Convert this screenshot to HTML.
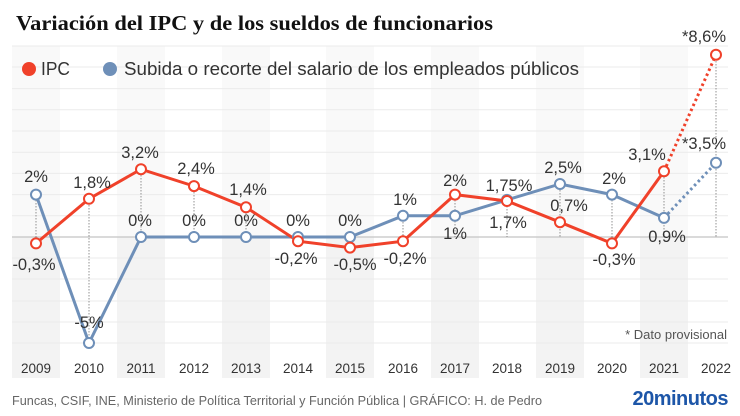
<!DOCTYPE html>
<html><head><meta charset="utf-8"><style>
body{margin:0;background:#fff;}
svg{display:block;font-family:"Liberation Sans",sans-serif;}
</style></head><body>
<svg width="740" height="416" viewBox="0 0 740 416">
<g fill="#f3f3f3">
<rect x="12" y="46" width="48" height="332" fill="#f9f9f9"/>
<rect x="117" y="46" width="48" height="332" fill="#f9f9f9"/>
<rect x="222" y="46" width="48" height="332" fill="#f9f9f9"/>
<rect x="326" y="46" width="48" height="332" fill="#f9f9f9"/>
<rect x="431" y="46" width="48" height="332" fill="#f9f9f9"/>
<rect x="536" y="46" width="48" height="332" fill="#f9f9f9"/>
<rect x="640" y="46" width="48" height="332" fill="#f9f9f9"/>
<rect x="12" y="237" width="48" height="141"/>
<rect x="117" y="237" width="48" height="141"/>
<rect x="222" y="237" width="48" height="141"/>
<rect x="326" y="237" width="48" height="141"/>
<rect x="431" y="237" width="48" height="141"/>
<rect x="536" y="237" width="48" height="141"/>
<rect x="640" y="237" width="48" height="141"/>
</g>
<g stroke="#ebebeb" stroke-width="1">
<line x1="12" x2="728" y1="46" y2="46"/><line x1="12" x2="728" y1="67" y2="67"/>
<line x1="12" x2="728" y1="88.6" y2="88.6"/><line x1="12" x2="728" y1="109.8" y2="109.8"/>
<line x1="12" x2="728" y1="131" y2="131"/><line x1="12" x2="728" y1="152.2" y2="152.2"/>
<line x1="12" x2="728" y1="173.4" y2="173.4"/><line x1="12" x2="728" y1="194.6" y2="194.6"/>
<line x1="12" x2="728" y1="215.8" y2="215.8"/><line x1="12" x2="728" y1="258" y2="258"/>
<line x1="12" x2="728" y1="279" y2="279"/><line x1="12" x2="728" y1="301" y2="301"/>
<line x1="12" x2="728" y1="322" y2="322"/><line x1="12" x2="728" y1="343" y2="343"/>
</g>
<line x1="12" x2="728" y1="237" y2="237" stroke="#c4c4c4" stroke-width="1.2"/>
<text x="16" y="30" font-family="'Liberation Serif',serif" font-weight="bold" font-size="21.5" fill="#111" textLength="477" lengthAdjust="spacingAndGlyphs">Variación del IPC y de los sueldos de funcionarios</text>
<circle cx="29" cy="69" r="7" fill="#f0412a"/>
<text x="41" y="75" font-size="18" fill="#333" textLength="29" lengthAdjust="spacingAndGlyphs">IPC</text>
<circle cx="110" cy="69" r="7" fill="#6e8fb8"/>
<text x="124" y="75" font-size="18" fill="#333" textLength="455" lengthAdjust="spacingAndGlyphs">Subida o recorte del salario de los empleados públicos</text>
<g stroke="#777" stroke-width="0.8" stroke-dasharray="1.5,1.5">
<line x1="36" x2="36" y1="194" y2="243"/><line x1="89" x2="89" y1="199" y2="343"/>
<line x1="141" x2="141" y1="169" y2="237"/><line x1="194" x2="194" y1="186" y2="237"/>
<line x1="246" x2="246" y1="207" y2="237"/><line x1="298" x2="298" y1="237" y2="241"/>
<line x1="350" x2="350" y1="237" y2="248"/><line x1="403" x2="403" y1="216" y2="241"/>
<line x1="455" x2="455" y1="194" y2="237"/><line x1="507" x2="507" y1="200" y2="237"/>
<line x1="560" x2="560" y1="184" y2="237"/><line x1="612" x2="612" y1="194" y2="243"/>
<line x1="664" x2="664" y1="171" y2="237"/><line x1="716" x2="716" y1="55" y2="237"/>
</g>
<polyline fill="none" stroke="#6e8fb8" stroke-width="3" points="36,194.6 89,343 141,237 194,237 246,237 298,237 350,237 403,215.8 455,215.8 507,199.9 560,184 612,194.6 664,217.9"/>
<line x1="664" y1="217.9" x2="716" y2="162.8" stroke="#6e8fb8" stroke-width="3" stroke-dasharray="2.5,3"/>
<polyline fill="none" stroke="#f0412a" stroke-width="3" points="36,243.4 89,198.8 141,169.2 194,186.1 246,207.3 298,241.2 350,247.6 403,241.2 455,194.6 507,201 560,222.2 612,243.4 664,171.3"/>
<line x1="664" y1="171.3" x2="716" y2="54.7" stroke="#f0412a" stroke-width="3" stroke-dasharray="2.5,3"/>
<g fill="#fff" stroke="#6e8fb8" stroke-width="2">
<circle cx="36" cy="194.6" r="5"/><circle cx="89" cy="343" r="5"/><circle cx="141" cy="237" r="5"/>
<circle cx="194" cy="237" r="5"/><circle cx="246" cy="237" r="5"/><circle cx="298" cy="237" r="5"/>
<circle cx="350" cy="237" r="5"/><circle cx="403" cy="215.8" r="5"/><circle cx="455" cy="215.8" r="5"/>
<circle cx="507" cy="199.9" r="5"/><circle cx="560" cy="184" r="5"/><circle cx="612" cy="194.6" r="5"/>
<circle cx="664" cy="217.9" r="5"/><circle cx="716" cy="162.8" r="5"/>
</g>
<g fill="#fff" stroke="#f0412a" stroke-width="2">
<circle cx="36" cy="243.4" r="5"/><circle cx="89" cy="198.8" r="5"/><circle cx="141" cy="169.2" r="5"/>
<circle cx="194" cy="186.1" r="5"/><circle cx="246" cy="207.3" r="5"/><circle cx="298" cy="241.2" r="5"/>
<circle cx="350" cy="247.6" r="5"/><circle cx="403" cy="241.2" r="5"/><circle cx="455" cy="194.6" r="5"/>
<circle cx="507" cy="201" r="5"/><circle cx="560" cy="222.2" r="5"/><circle cx="612" cy="243.4" r="5"/>
<circle cx="664" cy="171.3" r="5"/><circle cx="716" cy="54.7" r="5"/>
</g>
<g font-size="16.5" fill="#333" text-anchor="middle">
<text x="36" y="182">2%</text><text x="34" y="270">-0,3%</text>
<text x="92" y="188">1,8%</text><text x="89" y="328">-5%</text>
<text x="140" y="158">3,2%</text><text x="140" y="226">0%</text>
<text x="196" y="174">2,4%</text><text x="194" y="226">0%</text>
<text x="248" y="195">1,4%</text><text x="246" y="226">0%</text>
<text x="298" y="226">0%</text><text x="296" y="264">-0,2%</text>
<text x="350" y="226">0%</text><text x="355" y="270">-0,5%</text>
<text x="405" y="205">1%</text><text x="405" y="264">-0,2%</text>
<text x="455" y="186">2%</text><text x="455" y="239">1%</text>
<text x="509" y="191">1,75%</text><text x="508" y="228">1,7%</text>
<text x="563" y="173">2,5%</text><text x="569" y="211">0,7%</text>
<text x="614" y="184">2%</text><text x="614" y="265">-0,3%</text>
<text x="647" y="160">3,1%</text><text x="667" y="242">0,9%</text>
<text x="704" y="149">*3,5%</text><text x="704" y="42">*8,6%</text>
</g>
<text x="727" y="339" font-size="13" fill="#555" text-anchor="end">* Dato provisional</text>
<g font-size="13.5" fill="#333" text-anchor="middle">
<text x="36" y="373">2009</text><text x="89" y="373">2010</text><text x="141" y="373">2011</text>
<text x="194" y="373">2012</text><text x="246" y="373">2013</text><text x="298" y="373">2014</text>
<text x="350" y="373">2015</text><text x="403" y="373">2016</text><text x="455" y="373">2017</text>
<text x="507" y="373">2018</text><text x="560" y="373">2019</text><text x="612" y="373">2020</text>
<text x="664" y="373">2021</text><text x="716" y="373">2022</text>
</g>
<text x="12" y="405" font-size="12.5" fill="#666" textLength="530" lengthAdjust="spacingAndGlyphs">Funcas, CSIF, INE, Ministerio de Política Territorial y Función Pública  |  GRÁFICO: H. de Pedro</text>
<text x="728" y="405" font-size="20" font-weight="bold" fill="#1d56a8" text-anchor="end" letter-spacing="-0.5">20minutos</text>
</svg>
</body></html>
